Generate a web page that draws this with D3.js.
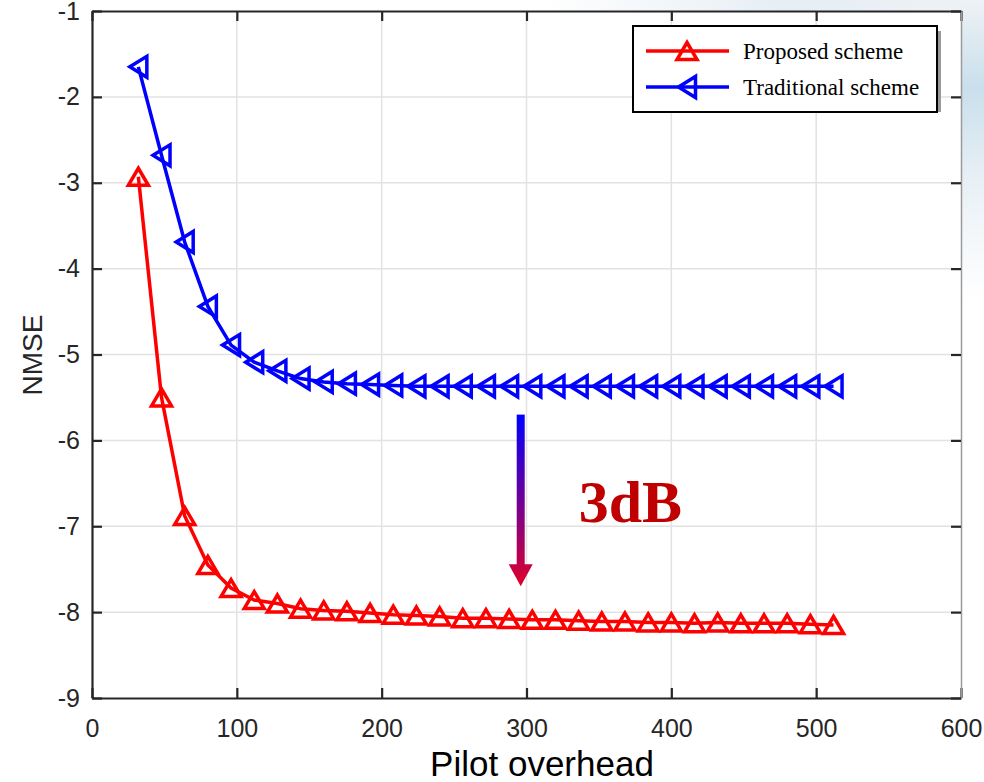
<!DOCTYPE html>
<html>
<head>
<meta charset="utf-8">
<script src="https://cdn.jsdelivr.net/npm/d3@7"></script>
<style>
  body { margin: 0; background: #fff; }
  svg { display: block; }
</style>
</head>
<body>
<script>
// pilot overhead values (x) and NMSE for the two schemes
let pilots = [32, 48, 64, 80, 96, 112, 128, 144, 160, 176, 192, 208, 224, 240, 256, 272,
              288, 304, 320, 336, 352, 368, 384, 400, 416, 432, 448, 464, 480, 496, 512];

let proposed = [-2.93, -5.50, -6.88, -7.45, -7.72, -7.86, -7.90, -7.96, -7.98, -7.99, -8.01,
                -8.03, -8.04, -8.05, -8.07, -8.07, -8.08, -8.09, -8.09, -8.10, -8.11, -8.11,
                -8.12, -8.12, -8.13, -8.12, -8.13, -8.13, -8.13, -8.14, -8.15];

let traditional = [-1.65, -2.68, -3.69, -4.44, -4.89, -5.09, -5.19, -5.28, -5.32, -5.34, -5.35,
                   -5.36, -5.37, -5.37, -5.37, -5.37, -5.37, -5.37, -5.37, -5.37, -5.37, -5.37,
                   -5.37, -5.37, -5.37, -5.37, -5.37, -5.37, -5.37, -5.37, -5.37];

let xTicks = [0, 100, 200, 300, 400, 500, 600];
let yTicks = [-9, -8, -7, -6, -5, -4, -3, -2, -1];
let seriesNames = ["Proposed scheme", "Traditional scheme"];

let W = 984, H = 782;
let pLeft = 92, pRight = 961, pTop = 11, pBottom = 698;

let x = d3.scaleLinear().domain([0, 600]).range([pLeft, pRight]);
let y = d3.scaleLinear().domain([-9, -1]).range([pBottom, pTop]);

let svg = d3.select("body").append("svg")
    .attr("width", W)
    .attr("height", H);

let defs = svg.append("defs");

// faint bluish background at the top right
let bg = defs.append("linearGradient").attr("id", "bg")
    .attr("x1", 0).attr("y1", 0).attr("x2", 0).attr("y2", 1);
bg.append("stop").attr("offset", "0%").attr("stop-color", "#eef2f5");
bg.append("stop").attr("offset", "22%").attr("stop-color", "#c9dfec");
bg.append("stop").attr("offset", "45%").attr("stop-color", "#e8f0f5");
bg.append("stop").attr("offset", "75%").attr("stop-color", "#ffffff");

let topbg = defs.append("linearGradient").attr("id", "topbg")
    .attr("x1", 0).attr("y1", 0).attr("x2", 1).attr("y2", 0);
topbg.append("stop").attr("offset", "0%").attr("stop-color", "#ffffff");
topbg.append("stop").attr("offset", "55%").attr("stop-color", "#ffffff");
topbg.append("stop").attr("offset", "80%").attr("stop-color", "#e6eef4");
topbg.append("stop").attr("offset", "100%").attr("stop-color", "#eef2f5");

svg.append("rect").attr("x", 0).attr("y", 0).attr("width", W).attr("height", pTop)
    .attr("fill", "url(#topbg)");
svg.append("rect").attr("x", pRight).attr("y", 0).attr("width", W - pRight).attr("height", 400)
    .attr("fill", "url(#bg)");

// plot area
svg.append("rect")
    .attr("x", pLeft).attr("y", pTop)
    .attr("width", pRight - pLeft).attr("height", pBottom - pTop)
    .attr("fill", "#fff");

// grid
svg.append("g")
    .selectAll("line")
    .data(xTicks.slice(1, -1))
    .enter().append("line")
      .attr("x1", d => x(d)).attr("x2", d => x(d))
      .attr("y1", pTop).attr("y2", pBottom)
      .attr("stroke", "#e2e2e2").attr("stroke-width", 1.5);

svg.append("g")
    .selectAll("line")
    .data(yTicks.slice(1, -1))
    .enter().append("line")
      .attr("x1", pLeft).attr("x2", pRight)
      .attr("y1", d => y(d)).attr("y2", d => y(d))
      .attr("stroke", "#e2e2e2").attr("stroke-width", 1.5);

// axes
let axisColor = "#262626";
let tickFont = "Arial, 'Liberation Sans', sans-serif";
let plain = d => String(d);

let xAxis = svg.append("g")
    .attr("transform", "translate(0," + pBottom + ")")
    .call(d3.axisBottom(x).tickValues(xTicks).tickFormat(plain)
      .tickSize(-10).tickSizeOuter(0).tickPadding(21));

let yAxis = svg.append("g")
    .attr("transform", "translate(" + pLeft + ",0)")
    .call(d3.axisLeft(y).tickValues(yTicks).tickFormat(plain)
      .tickSize(-10).tickSizeOuter(0).tickPadding(12));

let topAxis = svg.append("g")
    .attr("transform", "translate(0," + pTop + ")")
    .call(d3.axisTop(x).tickValues(xTicks).tickSize(-10).tickSizeOuter(0).tickFormat(""));

let rightAxis = svg.append("g")
    .attr("transform", "translate(" + pRight + ",0)")
    .call(d3.axisRight(y).tickValues(yTicks).tickSize(-10).tickSizeOuter(0).tickFormat(""));

[xAxis, yAxis, topAxis, rightAxis].forEach(function(g){
  g.select(".domain").attr("stroke", axisColor).attr("stroke-width", 2.2);
  g.selectAll(".tick line").attr("stroke", axisColor).attr("stroke-width", 2.2);
  g.selectAll(".tick text")
      .attr("fill", axisColor)
      .style("font-family", tickFont)
      .style("font-size", "25px");
});
rightAxis.select(".domain").attr("stroke", "#9a9a9a").attr("stroke-width", 1.5);

// axis titles
svg.append("text")
    .attr("x", 542).attr("y", 776)
    .attr("text-anchor", "middle")
    .attr("fill", "#000")
    .style("font-family", tickFont)
    .style("font-size", "35px")
    .text("Pilot overhead");

svg.append("text")
    .attr("transform", "translate(42,355) rotate(-90)")
    .attr("text-anchor", "middle")
    .attr("fill", "#262626")
    .style("font-family", tickFont)
    .style("font-size", "28px")
    .text("NMSE");

// series
let triUp = "M0,-8.5L10,8.5L-10,8.5Z";
let triLeft = "M-8.5,0L8.5,-10.5L8.5,10.5Z";

let series = [
  {name: seriesNames[0], values: proposed, color: "#ff0000", marker: triUp},
  {name: seriesNames[1], values: traditional, color: "#0000ff", marker: triLeft}
];

let line = d3.line()
    .x((d, i) => x(pilots[i]))
    .y(d => y(d));

series.forEach(function(s){
  svg.append("path")
      .datum(s.values)
      .attr("d", line)
      .attr("fill", "none")
      .attr("stroke", s.color)
      .attr("stroke-width", 3.5);

  svg.append("g")
    .selectAll("path")
    .data(s.values)
    .enter().append("path")
      .attr("d", s.marker)
      .attr("transform", (d, i) => "translate(" + x(pilots[i]) + "," + y(d) + ")")
      .attr("fill", "none")
      .attr("stroke", s.color)
      .attr("stroke-width", 3.5);
});

// 3dB annotation arrow
let grad = defs.append("linearGradient").attr("id", "arrowGrad")
    .attr("gradientUnits", "userSpaceOnUse")
    .attr("x1", 0).attr("y1", y(-5.7)).attr("x2", 0).attr("y2", y(-7.7));
grad.append("stop").attr("offset", "0%").attr("stop-color", "#0000ff");
grad.append("stop").attr("offset", "100%").attr("stop-color", "#e0002c");

let ax = x(296);
let ay1 = y(-5.7), ay2 = y(-7.7);
svg.append("rect")
    .attr("x", ax - 4).attr("y", ay1)
    .attr("width", 8).attr("height", ay2 - ay1 - 20)
    .attr("fill", "url(#arrowGrad)");
svg.append("path")
    .attr("d", "M" + (ax - 12) + "," + (ay2 - 22) + "L" + (ax + 12) + "," + (ay2 - 22) + "L" + ax + "," + ay2 + "Z")
    .attr("fill", "url(#arrowGrad)");

svg.append("text")
    .attr("x", x(336)).attr("y", y(-6.95))
    .attr("fill", "#c00000")
    .style("font-family", "'Times New Roman', 'Liberation Serif', serif")
    .style("font-weight", "bold")
    .style("font-size", "60px")
    .text("3dB");

// legend
let lg = svg.append("g").attr("transform", "translate(633,26)");
lg.append("rect")
    .attr("x", 4).attr("y", 5).attr("width", 304).attr("height", 81)
    .attr("fill", "#9a9a9a");
lg.append("rect")
    .attr("x", 0).attr("y", 0).attr("width", 304).attr("height", 86)
    .attr("fill", "#fff").attr("stroke", "#000").attr("stroke-width", 2);

series.forEach(function(s, i){
  let ly = 25 + i * 36;
  lg.append("line")
      .attr("x1", 13).attr("x2", 96)
      .attr("y1", ly).attr("y2", ly)
      .attr("stroke", s.color).attr("stroke-width", 3.5);
  lg.append("path")
      .attr("d", s.marker)
      .attr("transform", "translate(54," + ly + ")")
      .attr("fill", "none")
      .attr("stroke", s.color).attr("stroke-width", 3.5);
  lg.append("text")
      .attr("x", 110).attr("y", ly + 8)
      .attr("fill", "#000")
      .style("font-family", "'Times New Roman', 'Liberation Serif', serif")
      .style("font-size", "23px")
      .text(s.name);
});
</script>
</body>
</html>
